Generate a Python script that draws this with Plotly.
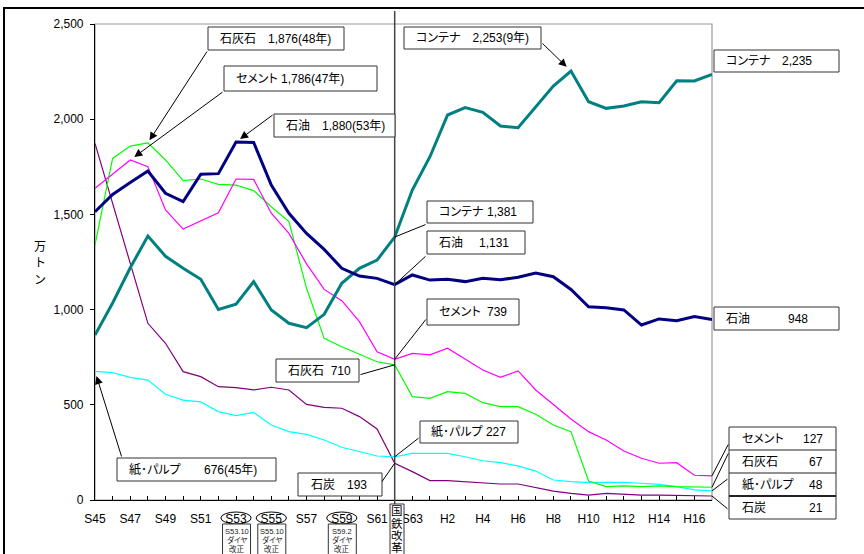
import plotly.graph_objects as go

# 年度（昭和45年〜平成17年）
years = ["S45", "S46", "S47", "S48", "S49", "S50", "S51", "S52", "S53", "S54",
         "S55", "S56", "S57", "S58", "S59", "S60", "S61", "S62", "S63",
         "H1", "H2", "H3", "H4", "H5", "H6", "H7", "H8", "H9", "H10",
         "H11", "H12", "H13", "H14", "H15", "H16", "H17"]

# 品目別輸送量（万トン）
oil = [1514, 1605, 1667, 1728, 1611, 1567, 1711, 1714, 1880, 1878,
       1654, 1506, 1400, 1316, 1217, 1176, 1164, 1131, 1182,
       1155, 1159, 1147, 1164, 1157, 1170, 1192, 1173, 1106, 1015,
       1010, 998, 919, 951, 942, 963, 948]
container = [866, 1035, 1220, 1386, 1280, 1217, 1159, 1001, 1029, 1147,
             998, 928, 905, 975, 1138, 1217, 1260, 1381, 1628,
             1803, 2022, 2061, 2036, 1964, 1955, 2066, 2174, 2253, 2092,
             2057, 2069, 2092, 2087, 2202, 2201, 2235]
cement = [1637, 1712, 1786, 1751, 1523, 1423, 1467, 1509, 1686, 1684,
          1506, 1400, 1240, 1106, 1047, 937, 779, 739, 770,
          762, 797, 739, 683, 644, 678, 578, 504, 425, 359,
          315, 257, 219, 193, 196, 130, 127]
limestone = [1340, 1794, 1859, 1876, 1786, 1677, 1686, 1658, 1654, 1625,
             1540, 1462, 1112, 849, 805, 767, 726, 710, 543,
             534, 569, 560, 511, 490, 490, 450, 394, 359, 100,
             70, 74, 70, 74, 70, 70, 67]
pulp = [676, 669, 644, 630, 555, 525, 515, 464, 443, 460,
        394, 359, 345, 315, 277, 254, 231, 227, 245,
        245, 245, 227, 206, 196, 179, 152, 105, 96, 91,
        93, 93, 88, 82, 70, 53, 48]
coal = [1873, 1558, 1243, 928, 823, 674, 648, 595, 590, 578,
        592, 578, 502, 487, 482, 438, 373, 193, 149,
        102, 102, 96, 90, 84, 84, 65, 47, 35, 26,
        35, 30, 26, 26, 25, 23, 21]

y_ticks = [0, 500, 1000, 1500, 2000, 2500]
tick_text = [y if i % 2 == 0 else "" for i, y in enumerate(years)]

FONT = "Liberation Sans, Arial, Noto Sans CJK JP, sans-serif"
W, H = 864, 554
L, R, T, B = 95, 712, 24, 500          # plot area in pixels
N = len(years)
YMAX = 2500
idx = list(range(N))
i62 = years.index("S62")
i_end = N - 1


def xpix(i):
    return L + i * (R - L) / (N - 1)


def ypix(v):
    return B - v * (B - T) / YMAX


def paper(px, py):
    return (px - L) / (R - L), (B - py) / (B - T)


def jp(s):
    # proportional kana spacing
    return f"<span style=\"font-feature-settings:'palt'\">{s}</span>"


shapes, annotations = [], []


def rect(x0, y0, x1, y1, color="#333", width=1, fill="white"):
    a0, b1 = paper(x0, y0)
    a1, b0 = paper(x1, y1)
    shapes.append(dict(type="rect", xref="paper", yref="paper",
                       x0=a0, x1=a1, y0=b0, y1=b1,
                       line=dict(color=color, width=width),
                       fillcolor=fill, layer="above"))


def hline(x0, x1, y, color="#222", width=1):
    a0, b = paper(x0, y)
    a1, _ = paper(x1, y)
    shapes.append(dict(type="line", xref="paper", yref="paper",
                       x0=a0, x1=a1, y0=b, y1=b,
                       line=dict(color=color, width=width), layer="above"))


def text(px, py, s, anchor="left", size=12, color="black"):
    a, b = paper(px, py)
    annotations.append(dict(xref="paper", yref="paper", x=a, y=b, text=s,
                            showarrow=False, xanchor=anchor, yanchor="middle",
                            font=dict(size=size, family=FONT, color=color)))


def pointer(i, v, tail_x, tail_y, head=True, standoff=0):
    annotations.append(dict(x=i, y=v, xref="x", yref="y", text="",
                            showarrow=True, ax=tail_x - xpix(i), ay=tail_y - ypix(v),
                            arrowhead=2 if head else 0, arrowsize=1.6,
                            arrowwidth=1, arrowcolor="black", standoff=standoff))


fig = go.Figure()

series = [
    ("石炭", coal, "#800080", 1.2),
    ("紙・パルプ", pulp, "#00FFFF", 1.2),
    ("石灰石", limestone, "#00FF00", 1.2),
    ("セメント", cement, "#FF00FF", 1.2),
    ("コンテナ", container, "#008080", 3),
    ("石油", oil, "#000080", 3),
]
for name, vals, color, lw in series:
    fig.add_trace(go.Scatter(x=idx, y=vals, mode="lines", name=name,
                             line=dict(color=color, width=lw), showlegend=False))

# plot-area frame (grey) and the outer chart border
shapes.append(dict(type="rect", xref="paper", yref="paper", x0=0, x1=1, y0=0, y1=1,
                   line=dict(color="#999", width=1.2), layer="below"))
ox0, oy1 = paper(4, 8)
ox1, oy0 = paper(880, 570)
shapes.append(dict(type="rect", xref="paper", yref="paper", x0=ox0, x1=ox1,
                   y0=oy0, y1=oy1, line=dict(color="black", width=2), layer="above"))

# 国鉄改革 (S62) vertical line
_, vy0 = paper(0, 570)
_, vy1 = paper(0, 11)
shapes.append(dict(type="line", xref="x", yref="paper", x0=i62, x1=i62,
                   y0=vy0, y1=vy1, line=dict(color="#444", width=1.5), layer="above"))

# peak labels with arrows
rect(208, 27, 344, 50)
text(218, 38.5, jp(f"石灰石　{limestone[3]:,}(48年)"))
pointer(3, limestone[3], 208, 50, standoff=3)

rect(224, 66, 377, 91)
text(234, 78.5, jp(f"セメント {cement[2]:,}(47年)"))
pointer(2, cement[2], 224, 91, standoff=5)

rect(274, 114, 395, 137)
text(284, 125.5, jp(f"石油　{oil[8]:,}(53年)"))
pointer(8, oil[8], 274, 114, standoff=5)

rect(404, 27, 541, 49)
text(414, 38, jp(f"コンテナ　{container[27]:,}(9年)"))
pointer(27, container[27], 541, 42, standoff=6)

rect(117, 458, 276, 481)
text(127, 469.5, jp("紙･パルプ"))
text(259, 469.5, f"{pulp[0]:,}(45年)", anchor="right")
pointer(0, pulp[0], 122, 458, standoff=5)

# S62 labels with leader lines
rect(427, 201, 533, 223)
text(437, 212, jp("コンテナ"))
text(519, 212, f"{container[i62]:,}", anchor="right")
pointer(i62, container[i62], 427, 224, head=False)

rect(427, 231, 525, 254)
text(437, 242.5, "石油")
text(511, 242.5, f"{oil[i62]:,}", anchor="right")
pointer(i62, oil[i62], 427, 255, head=False)

rect(427, 299, 519, 325)
text(437, 312, jp("セメント"))
text(509, 312, f"{cement[i62]:,}", anchor="right")
pointer(i62, cement[i62], 427, 318, head=False)

rect(276, 359, 359, 382)
text(286, 370.5, f"石灰石  {limestone[i62]:,}")
pointer(i62, limestone[i62], 359, 375, head=False)

rect(420, 421, 518, 443)
text(429, 432, jp(f"紙･パルプ {pulp[i62]:,}"))
pointer(i62, pulp[i62], 420, 437, head=False)

rect(298, 473, 382, 496)
text(309, 484.5, f"石炭　{coal[i62]:,}")
pointer(i62, coal[i62], 381, 483, head=False)

# latest-year labels
rect(714, 50, 839, 72)
text(724, 61, jp("コンテナ"))
text(814, 61, f"{container[i_end]:,}", anchor="right")

rect(714, 307, 839, 330)
text(724, 318.5, "石油")
text(810, 318.5, f"{oil[i_end]:,}", anchor="right")

rect(729, 427, 836, 519)
hline(729, 836, 450)
hline(729, 836, 473)
hline(729, 836, 496, width=2.2)
stack = [("セメント", cement, 438.5, 443), ("石灰石", limestone, 461.5, 452),
         ("紙･パルプ", pulp, 484.5, 478), ("石炭", coal, 507.5, 510)]
for name, vals, ty, ly in stack:
    text(740, ty, jp(name))
    text(825, ty, f"{vals[i_end]:,}", anchor="right")
    pointer(i_end, vals[i_end], 729, ly, head=False)

# timetable revisions under the axis
for lab, note in [("S53", "S53.10"), ("S55", "S55.10"), ("S59", "S59.2")]:
    i = years.index(lab)
    _, ey0 = paper(0, 524)
    _, ey1 = paper(0, 512)
    shapes.append(dict(type="circle", xref="x", yref="paper", x0=i - 0.86, x1=i + 0.86,
                       y0=ey0, y1=ey1, line=dict(color="black", width=1), layer="above"))
    bx = xpix(i)
    rect(bx - 13.5, 524, bx + 14.5, 570)
    for ty, line in zip([531, 540, 548.5], [note, "ダイヤ", "改正"]):
        text(bx + 0.5, ty, jp(line), anchor="center", size=7.5, color="#222")

# 国鉄改革 box, one character per line
rect(390, 504, 404, 570)
for ty, ch in zip([511, 523, 535, 547], "国鉄改革"):
    text(397, ty, ch, anchor="center", size=11.5)

# y-axis title
for ty, ch in zip([247, 263, 280], "万トン"):
    text(40, ty, ch, anchor="center", size=12)

fig.update_layout(
    width=W, height=H,
    margin=dict(l=L, r=W - R, t=T, b=H - B),
    paper_bgcolor="white", plot_bgcolor="white",
    font=dict(family=FONT, size=12, color="black"),
    shapes=shapes, annotations=annotations,
    xaxis=dict(range=[0, N - 1], tickvals=idx, ticktext=tick_text,
               ticks="inside", ticklen=4, tickcolor="black", tickwidth=1,
               showline=True, linecolor="black", linewidth=1.2,
               showgrid=False, zeroline=False, ticklabelstandoff=7,
               tickfont=dict(size=12, family=FONT, color="black"), tickangle=0),
    yaxis=dict(range=[0, YMAX], tickvals=y_ticks, tickformat=",d",
               ticks="outside", ticklen=4, tickcolor="black", tickwidth=1,
               showline=True, linecolor="black", linewidth=1.2,
               showgrid=False, zeroline=False, ticklabelstandoff=4,
               tickfont=dict(size=12, family=FONT, color="black")),
)

fig.write_html("out.html")
